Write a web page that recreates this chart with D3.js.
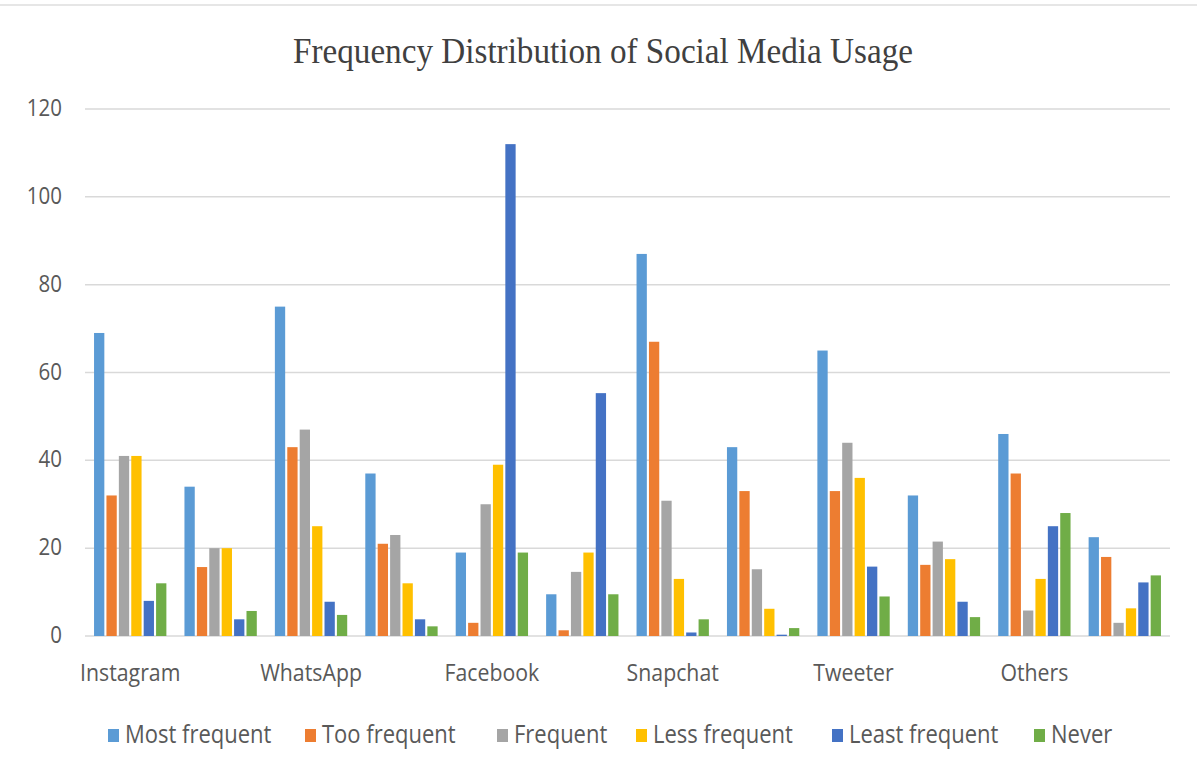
<!DOCTYPE html>
<html><head><meta charset="utf-8">
<script src="https://cdn.jsdelivr.net/npm/d3@7"></script>
<style>body{margin:0;background:#fff}svg{display:block}</style>
</head><body><svg id="c" width="1197" height="778"></svg>
<script>
const categories = ["Instagram","Instagram (%)","WhatsApp","WhatsApp (%)","Facebook","Facebook (%)","Snapchat","Snapchat (%)","Tweeter","Tweeter (%)","Others","Others (%)"];
const tickLabels = ["Instagram","","WhatsApp","","Facebook","","Snapchat","","Tweeter","","Others",""];
const seriesNames = ["Most frequent","Too frequent","Frequent","Less frequent","Least frequent","Never"];
const mostFrequent  = [69,34,75,37,19,9.5,87,43,65,32,46,22.5];
const tooFrequent   = [32,15.7,43,21,3,1.3,67,33,33,16.2,37,18];
const frequent      = [41,20,47,23,30,14.6,30.8,15.2,44,21.5,5.8,3];
const lessFrequent  = [41,20,25,12,39,19,13,6.2,36,17.5,13,6.3];
const leastFrequent = [8,3.8,7.8,3.8,112,55.3,0.8,0.3,15.8,7.8,25,12.2];
const never         = [12,5.7,4.8,2.2,19,9.5,3.8,1.8,9,4.3,28,13.8];
const yTicks = [0,20,40,60,80,100,120];
const colors = ["#5B9BD5","#ED7D31","#A5A5A5","#FFC000","#4472C4","#70AD47"];

const series = [mostFrequent,tooFrequent,frequent,lessFrequent,leastFrequent,never];
const svg = d3.select("#c");
const plotLeft = 85, plotRight = 1170, plotTop = 109, plotBottom = 636;

svg.append("line").attr("x1",0).attr("x2",1197).attr("y1",5).attr("y2",5)
  .attr("stroke","#e6e6e6").attr("stroke-width",2);

const x0 = d3.scaleBand().domain(categories).range([plotLeft,plotRight]).paddingInner(0.2).paddingOuter(0.1);
const x1 = d3.scaleBand().domain(seriesNames).range([0,x0.bandwidth()]).paddingInner(0.17);
const y = d3.scaleLinear().domain([0,120]).range([plotBottom,plotTop]);

// gridlines
svg.append("g").selectAll("line").data(yTicks).join("line")
  .attr("x1",plotLeft).attr("x2",plotRight).attr("y1",d=>y(d)).attr("y2",d=>y(d))
  .attr("stroke","#d9d9d9").attr("stroke-width",1.5);

// y labels
svg.append("g").selectAll("text").data(yTicks).join("text")
  .attr("transform",d=>`translate(62,${y(d)+7}) scale(1,1.12)`)
  .attr("text-anchor","end").attr("fill","#595959")
  .style("font-family","'Open Sans',sans-serif").style("font-size","20.5px")
  .text(d=>d);

// bars
const groups = svg.append("g").selectAll("g").data(categories).join("g")
  .attr("transform",c=>`translate(${x0(c)},0)`);
groups.selectAll("rect").data((c,i)=>series.map((s,k)=>({k,v:s[i]}))).join("rect")
  .attr("x",d=>x1(seriesNames[d.k])).attr("width",x1.bandwidth())
  .attr("y",d=>y(d.v)).attr("height",d=>y(0)-y(d.v))
  .attr("fill",d=>colors[d.k]);

// x labels
svg.append("g").selectAll("text").data(categories).join("text")
  .attr("transform",c=>`translate(${x0(c)+x0.bandwidth()/2},${681}) scale(1,1.14)`)
  .attr("text-anchor","middle").attr("fill","#595959")
  .style("font-family","'Open Sans',sans-serif").style("font-size","21.3px")
  .text((c,i)=>tickLabels[i]);

// title
svg.append("text").attr("x",603).attr("y",63).attr("text-anchor","middle")
  .attr("fill","#404040").style("font-family","'Liberation Serif',serif").style("font-size","36px")
  .attr("textLength",620).attr("lengthAdjust","spacingAndGlyphs")
  .text("Frequency Distribution of Social Media Usage");

// legend
const legendX = [108,305,497,636,832,1034];
const lg = svg.append("g").selectAll("g").data(seriesNames).join("g")
  .attr("transform",(d,i)=>`translate(${legendX[i]},0)`);
lg.append("rect").attr("x",0).attr("y",729).attr("width",11).attr("height",13).attr("fill",(d,i)=>colors[i]);
lg.append("text").attr("transform","translate(17,743) scale(1,1.14)")
  .attr("fill","#595959").style("font-family","'Open Sans',sans-serif").style("font-size","22px")
  .text(d=>d);
</script></body></html>
